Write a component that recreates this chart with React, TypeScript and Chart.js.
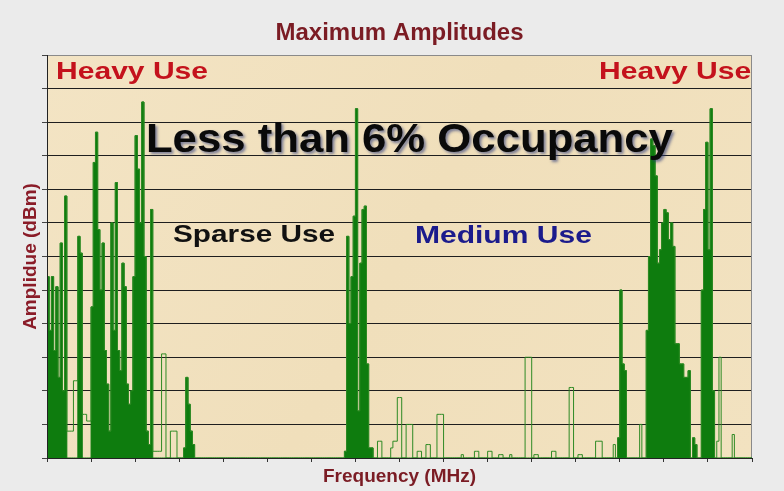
import React, { useEffect, useRef } from 'react';
import { Chart, registerables } from 'chart.js';

Chart.register(...registerables);

// ---------- data ----------
const BIN_COUNT = 320;
const AMP_MIN = -120;
const AMP_MAX = 0;
const AMP_STEP = 10;
const FREQ_TICK_STEP = 20;

// maximum amplitude (dBm) per frequency bin, 20 bins per tick interval
const amplitudes: number[] = [
  -66, -82, -66, -88, -69, -96, -56, -100, -42, -112, -112, -112, -97, -97, -54, -59, -107, -107, -109, -109,
  -75, -32, -23, -52, -70, -56, -88, -98, -112, -50, -82, -38, -88, -94, -62, -69, -98, -104, -100, -66,
  -24, -34, -50, -14, -60, -112, -116, -46, -118, -118, -118, -118, -89, -89, -120, -120, -112, -112, -112, -120,
  -120, -120, -117, -96, -104, -112, -116, -120, -120, -120, -120, -120, -120, -120, -120, -120, -120, -120, -120, -120,
  -120, -120, -120, -120, -120, -120, -120, -120, -120, -120, -120, -120, -120, -120, -120, -120, -120, -120, -120, -120,
  -120, -120, -120, -120, -120, -120, -120, -120, -120, -120, -120, -120, -120, -120, -120, -120, -120, -120, -120, -120,
  -120, -120, -120, -120, -120, -120, -120, -120, -120, -120, -120, -120, -120, -120, -120, -118, -54, -80, -66, -48,
  -16, -106, -62, -46, -45, -92, -117, -117, -120, -120, -115, -115, -120, -120, -120, -120, -117, -115, -115, -102,
  -102, -120, -120, -110, -110, -110, -120, -120, -118, -118, -120, -120, -116, -116, -120, -120, -120, -107, -107, -107,
  -120, -120, -120, -120, -120, -120, -120, -120, -119, -120, -120, -120, -120, -120, -118, -118, -120, -120, -120, -120,
  -118, -118, -120, -120, -120, -119, -119, -120, -120, -120, -119, -120, -120, -120, -120, -120, -120, -90, -90, -90,
  -120, -119, -119, -120, -120, -120, -120, -120, -120, -118, -118, -120, -120, -120, -120, -120, -120, -99, -99, -120,
  -120, -119, -119, -120, -120, -120, -120, -120, -120, -115, -115, -115, -120, -120, -120, -120, -120, -116, -120, -114,
  -70, -92, -94, -120, -120, -120, -120, -120, -120, -110, -120, -120, -82, -60, -25, -27, -36, -62, -58, -50,
  -46, -47, -55, -50, -57, -86, -86, -92, -92, -96, -96, -94, -120, -114, -116, -120, -120, -70, -46, -26,
  -58, -16, -100, -120, -115, -90, -120, -120, -120, -120, -120, -113, -120, -120, -120, -120, -120, -120, -120, -120,
];

// bin ranges (inclusive) where the band is densely occupied
const occupiedBands: [number, number][] = [
  [0, 8], [14, 15], [20, 47], [62, 66],
  [135, 147],
  [259, 262], [272, 291], [293, 294], [297, 302],
];

const chartTitle = 'Maximum Amplitudes';
const xAxisTitle = 'Frequency (MHz)';
const yAxisTitle = 'Amplidue (dBm)';

// ---------- styles ----------
const FONT = "'Liberation Sans', Arial, Helvetica, sans-serif";
const MAROON = '#7b1c24';
const FILL_GREEN = '#0e7c0e';
const LINE_GREEN = '#2e8a24';

type Note = {
  text: string; bin: number; dbm: number; align: CanvasTextAlign;
  size: number; width: number; color: string; shadow?: boolean;
};

const notes: Note[] = [
  { text: 'Heavy Use', bin: 4.1, dbm: -7.1, align: 'left', size: 24, width: 152, color: '#c4121c' },
  { text: 'Heavy Use', bin: 319.6, dbm: -7.1, align: 'right', size: 24, width: 152, color: '#c4121c' },
  { text: 'Less than 6% Occupancy', bin: 44.9, dbm: -28.9, align: 'left', size: 40, width: 527, color: '#0a0a0a', shadow: true },
  { text: 'Sparse Use', bin: 57.2, dbm: -55.7, align: 'left', size: 24, width: 162, color: '#111111' },
  { text: 'Medium Use', bin: 167.0, dbm: -56.0, align: 'left', size: 24, width: 177, color: '#1b1b8c' },
];

const inBand = (i: number) => occupiedBands.some(([a, b]) => i >= a && i <= b);

const outlinePoints = amplitudes.map((v, i) => ({ x: i, y: v }));
outlinePoints.push({ x: BIN_COUNT, y: amplitudes[amplitudes.length - 1] });
const fillPoints = amplitudes.map((v, i) => ({ x: i, y: inBand(i) ? v : AMP_MIN }));
fillPoints.push({ x: BIN_COUNT, y: AMP_MIN });

const backgroundPlugin = {
  id: 'bg',
  beforeDraw(chart: any) {
    const { ctx, chartArea: a } = chart;
    ctx.save();
    ctx.fillStyle = '#ebebeb';
    ctx.fillRect(0, 0, chart.width, chart.height);
    const g = ctx.createLinearGradient(a.left, a.top, a.right, a.bottom);
    g.addColorStop(0, '#f3e4c4');
    g.addColorStop(0.5, '#f0dfbb');
    g.addColorStop(1, '#f2e2c0');
    ctx.fillStyle = g;
    ctx.fillRect(a.left, a.top, a.right - a.left, a.bottom - a.top);
    ctx.restore();
  },
  beforeDatasetsDraw(chart: any) {
    const { ctx, chartArea: a } = chart;
    ctx.save();
    ctx.strokeStyle = '#8a8a8a';
    ctx.lineWidth = 1;
    ctx.strokeRect(Math.round(a.left) + 0.5, Math.round(a.top) + 0.5, Math.round(a.right - a.left) - 1, Math.round(a.bottom - a.top));
    ctx.restore();
  },
};

const notesPlugin = {
  id: 'notes',
  afterDatasetsDraw(chart: any) {
    const { ctx, scales } = chart;
    for (const n of notes) {
      const px = scales.x.getPixelForValue(n.bin);
      const py = scales.y.getPixelForValue(n.dbm);
      ctx.save();
      ctx.font = `bold ${n.size}px ${FONT}`;
      const w = ctx.measureText(n.text).width;
      const sx = n.width / w;
      if (n.shadow) {
        ctx.shadowColor = 'rgba(40,55,120,0.6)';
        ctx.shadowOffsetX = 2;
        ctx.shadowOffsetY = 2;
        ctx.shadowBlur = 3;
      }
      ctx.translate(px, py);
      ctx.scale(sx, 1);
      ctx.textAlign = n.align;
      ctx.textBaseline = 'alphabetic';
      ctx.fillStyle = n.color;
      ctx.fillText(n.text, 0, 0);
      ctx.restore();
    }
  },
};

export default function App() {
  const ref = useRef<HTMLCanvasElement>(null);

  useEffect(() => {
    if (!ref.current) return;
    Chart.defaults.font.family = FONT;
    const chart = new Chart(ref.current, {
      type: 'line',
      data: {
        datasets: [
          {
            label: 'Spectrum',
            data: outlinePoints,
            stepped: true,
            borderColor: LINE_GREEN,
            borderWidth: 1,
            pointRadius: 0,
            fill: false,
            tension: 0,
          },
          {
            label: 'Occupied',
            data: fillPoints,
            stepped: true,
            borderColor: FILL_GREEN,
            borderWidth: 1,
            backgroundColor: FILL_GREEN,
            pointRadius: 0,
            fill: 'start',
            tension: 0,
          },
        ],
      },
      options: {
        responsive: false,
        animation: false,
        events: [],
        layout: { padding: { left: 15.2, right: 32, top: 0, bottom: 1.2 } },
        plugins: {
          legend: { display: false },
          tooltip: { enabled: false },
          title: {
            display: true,
            text: chartTitle,
            fullSize: false,
            color: MAROON,
            font: { size: 24, weight: 'bold', family: FONT },
            padding: { top: 19, bottom: 7.2 },
          },
        },
        scales: {
          x: {
            type: 'linear',
            min: 0,
            max: BIN_COUNT,
            ticks: { display: false, stepSize: FREQ_TICK_STEP },
            grid: { drawOnChartArea: false, drawTicks: true, tickLength: 4, tickColor: '#333333' },
            border: { display: true, color: '#222222', width: 1, z: 1 },
            title: {
              display: true,
              text: xAxisTitle,
              color: MAROON,
              font: { size: 19, weight: 'bold', family: FONT },
              padding: { top: 3, bottom: 2 },
            },
          },
          y: {
            type: 'linear',
            min: AMP_MIN,
            max: AMP_MAX,
            ticks: { display: false, stepSize: AMP_STEP },
            grid: {
              color: (c: any) => (c.tick && c.tick.value === AMP_MAX ? '#7a7a7a' : '#1e1e1e'),
              tickColor: '#444444',
              drawTicks: true,
              tickLength: 5,
            },
            border: { display: true, color: '#222222', width: 1, z: 1 },
            title: {
              display: true,
              text: yAxisTitle,
              color: '#8a1c28',
              font: { size: 19, weight: 'bold', family: FONT },
              padding: { top: 4, bottom: 0 },
            },
          },
        },
      },
      plugins: [backgroundPlugin, notesPlugin],
    } as any);
    return () => chart.destroy();
  }, []);

  return (
    <div style={{ position: 'fixed', left: 0, top: 0, width: 784, height: 491 }}>
      <canvas ref={ref} width={784} height={491} style={{ display: 'block', width: 784, height: 491 }} />
    </div>
  );
}
